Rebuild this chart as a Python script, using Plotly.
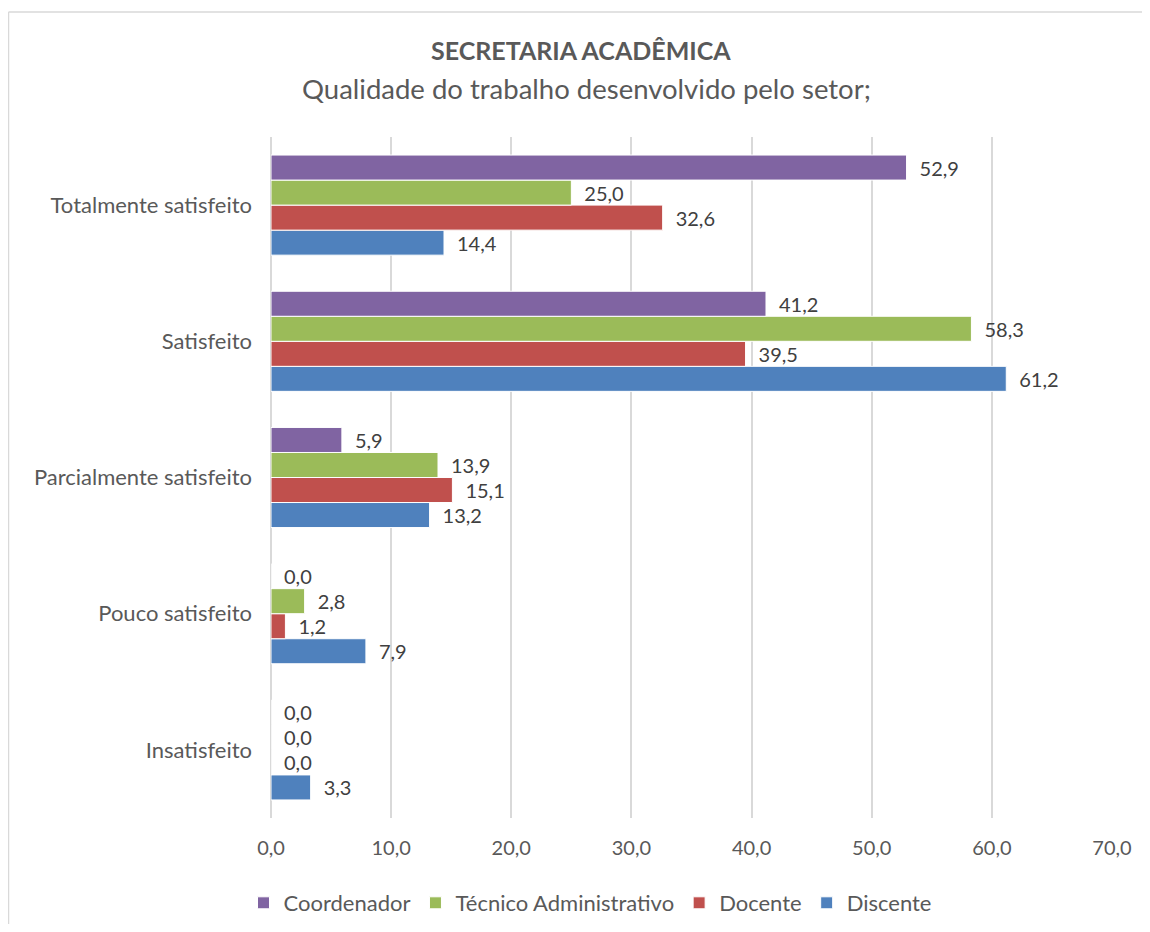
import plotly.graph_objects as go

categories = ["Insatisfeito", "Pouco satisfeito", "Parcialmente satisfeito", "Satisfeito", "Totalmente satisfeito"]
discente = [3.3, 7.9, 13.2, 61.2, 14.4]
docente = [0.0, 1.2, 15.1, 39.5, 32.6]
tecnico = [0.0, 2.8, 13.9, 58.3, 25.0]
coordenador = [0.0, 0.0, 5.9, 41.2, 52.9]
x_ticks = [0, 10, 20, 30, 40, 50, 60, 70]

series = [
    ("Discente", discente, "#4F81BD"),
    ("Docente", docente, "#C0504D"),
    ("Técnico Administrativo", tecnico, "#9BBB59"),
    ("Coordenador", coordenador, "#8064A2"),
]

FONT = "Lato"
fig = go.Figure()
for name, vals, color in series:
    fig.add_trace(go.Bar(
        y=categories, x=vals, name=name, orientation="h",
        marker=dict(color=color, line=dict(color="white", width=1)),
        texttemplate="\u2002%{x:.1f}", textposition="outside",
        textfont=dict(family=FONT, size=20, color="#404040"),
        cliponaxis=False,
    ))

# page offset: the browser body adds 8px margins; figure occupies page 8..1150, 8..924
OFF = 8
W, H = 1150 - OFF, 932 - 2 * OFF
L, R, T = 271 - OFF, 38, 137 - OFF
B = (H + OFF) - 818
pw, ph = W - L - R, H - T - B

def px(x):
    return (x - OFF - L) / pw

def py(y):
    return (H - B - (y - OFF)) / ph

border = dict(color="#D9D9D9", width=1.5)

fig.update_layout(
    width=W, height=H,
    margin=dict(l=L, r=R, t=T, b=B),
    paper_bgcolor="white", plot_bgcolor="white",
    separators=",.",
    barmode="group", bargap=0.265, bargroupgap=0,
    font=dict(family=FONT, color="#595959"),
    showlegend=True,
    legend=dict(
        orientation="h", traceorder="reversed",
        xref="container", yref="container",
        x=(590 - OFF) / W, xanchor="center", y=1 - (903 - OFF) / H, yanchor="middle",
        font=dict(family=FONT, size=22, color="#595959"),
    ),
    xaxis=dict(
        range=[0, 70], tickvals=x_ticks, tickformat=".1f",
        showgrid=True, gridcolor="#D9D9D9", gridwidth=1.5,
        zeroline=True, zerolinecolor="#D9D9D9", zerolinewidth=1.5,
        showline=False, ticks="", ticklabelstandoff=16,
        tickfont=dict(family=FONT, size=20, color="#595959"),
        fixedrange=True,
    ),
    yaxis=dict(
        categoryorder="array", categoryarray=categories,
        showgrid=False, showline=False, ticks="", ticklabelstandoff=18,
        tickfont=dict(family=FONT, size=22, color="#595959"),
    ),
    shapes=[
        dict(type="line", xref="paper", yref="paper",
             x0=px(8.5), x1=px(1200), y0=py(12), y1=py(12), line=border, layer="below"),
        dict(type="line", xref="paper", yref="paper",
             x0=px(8.5), x1=px(8.5), y0=py(12), y1=py(1000), line=border, layer="below"),
    ],
    annotations=[
        dict(text="<b>SECRETARIA ACADÊMICA</b>", xref="paper", yref="paper",
             x=px(581), y=py(50), xanchor="center", yanchor="middle",
             showarrow=False, font=dict(family=FONT, size=25, color="#595959")),
        dict(text="Qualidade do trabalho desenvolvido pelo setor;", xref="paper", yref="paper",
             x=px(586), y=py(88), xanchor="center", yanchor="middle",
             showarrow=False, font=dict(family=FONT, size=27.5, color="#595959")),
    ],
)

fig.write_html("out.html")
